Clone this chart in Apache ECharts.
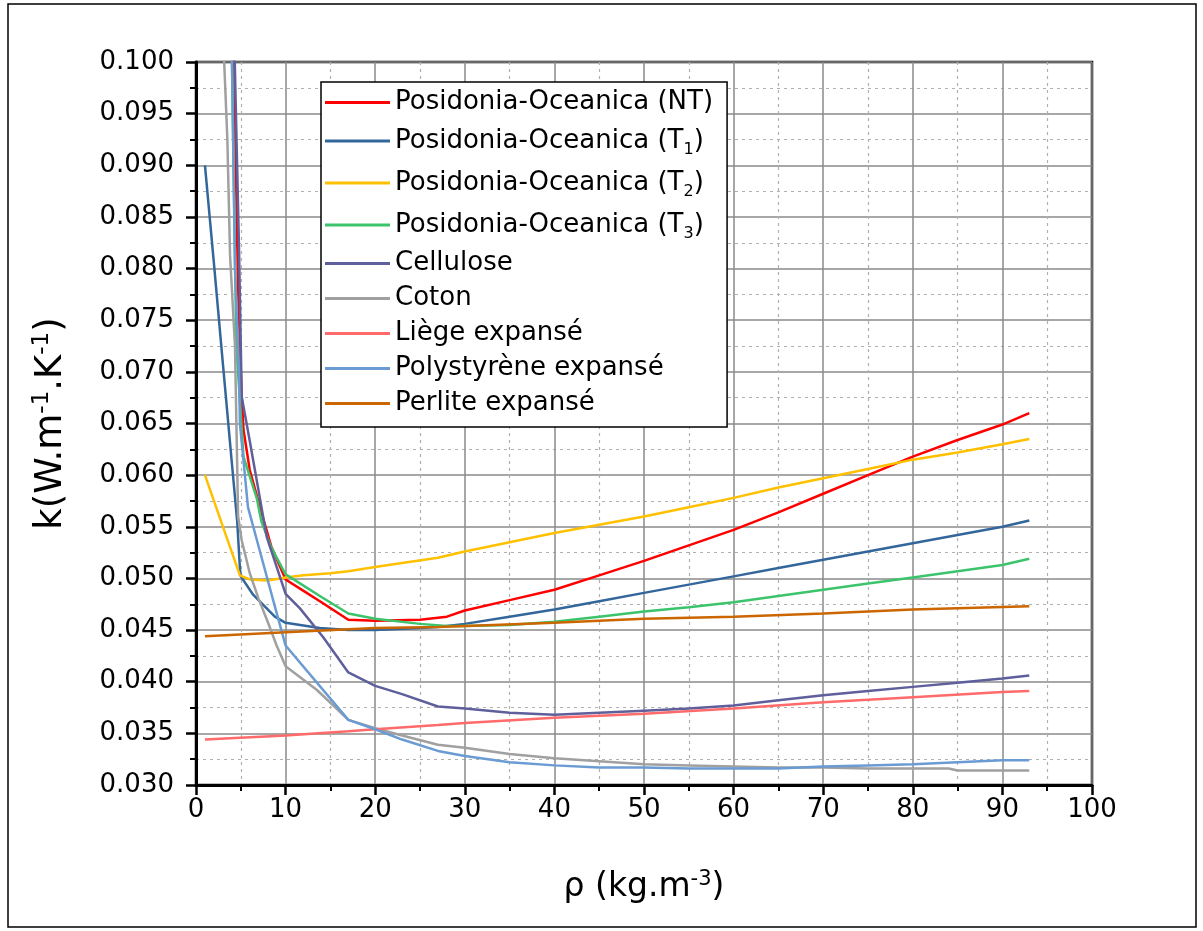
<!DOCTYPE html>
<html>
<head>
<meta charset="utf-8">
<script src="https://cdn.jsdelivr.net/npm/echarts@6/dist/echarts.min.js"></script>
<style>html,body{margin:0;padding:0;background:#fff}#c{width:1203px;height:931px}</style>
</head>
<body>
<div id="c"></div>
<script>
// ---- data (rho in kg/m3, k in W/m/K) ----
const seriesNames = ['Posidonia-Oceanica (NT)','Posidonia-Oceanica (T1)','Posidonia-Oceanica (T2)','Posidonia-Oceanica (T3)','Cellulose','Coton','Liège expansé','Polystyrène expansé','Perlite expansé'];
const seriesColors = ['#FF0000','#33669A','#FFC000','#3CC46C','#5F5F9C','#A0A0A0','#FF6A6A','#6A9BD2','#CC6600'];

const ntRho = [4.2,4.7,5.1,5.3,6,7.3,8.4,10,12,14,17,20,25,28,30,35,40,45,50,55,60,65,70,75,80,85,90,93];
const ntK   = [0.101,0.078,0.0676,0.0644,0.0605,0.0564,0.0531,0.0499,0.0488,0.0477,0.0460,0.0459,0.0460,0.0463,0.0469,0.0479,0.0489,0.0503,0.0517,0.0532,0.0547,0.0564,0.0582,0.0600,0.0618,0.0634,0.0649,0.0660];

const t1Rho = [1,2,3,4,4.6,4.9,5,6.4,8.8,10,13.8,17,20,25,27,30,35,40,45,50,55,60,65,70,75,80,85,90,93];
const t1K   = [0.0900,0.0805,0.0708,0.0612,0.0555,0.0510,0.0502,0.0484,0.0463,0.0457,0.0452,0.0450,0.0450,0.0452,0.0453,0.0456,0.0463,0.0470,0.0478,0.0486,0.0494,0.0502,0.0510,0.0518,0.0526,0.0534,0.0542,0.0550,0.0556];

const t2Rho = [1,4.9,6,8,10,12,15,17,20,23,27,30,35,40,45,50,55,60,65,70,75,80,85,90,93];
const t2K   = [0.0600,0.0503,0.0499,0.0498,0.0501,0.0503,0.0505,0.0507,0.0511,0.0515,0.0520,0.0526,0.0535,0.0544,0.0552,0.0560,0.0569,0.0578,0.0588,0.0597,0.0606,0.0615,0.0622,0.0630,0.0635];

const t3Rho = [4.0,4.5,5.3,6.8,7.3,8.4,10,12,14,17,20,25,28,30,35,40,45,50,55,60,65,70,75,80,85,90,93];
const t3K   = [0.101,0.0726,0.0618,0.0577,0.0555,0.0530,0.0504,0.0493,0.0482,0.0466,0.0461,0.0456,0.0454,0.0454,0.0455,0.0458,0.0463,0.0468,0.0472,0.0477,0.0483,0.0489,0.0495,0.0501,0.0507,0.0513,0.0519];

const celRho = [4.3,4.8,5.1,6,7.9,10,11.6,14.2,17,20,23,27,30,35,40,45,50,55,60,65,70,75,80,85,90,93];
const celK   = [0.101,0.082,0.0676,0.0633,0.0540,0.0485,0.0471,0.0443,0.0409,0.0396,0.0388,0.0376,0.0374,0.0370,0.0368,0.0370,0.0372,0.0374,0.0377,0.0382,0.0387,0.0391,0.0395,0.0399,0.0403,0.0406];

const cotRho = [3.1,3.5,3.8,4.35,4.7,5.1,6,7,8,9,10,13.5,17,20,23,27,30,35,40,45,50,55,60,65,70,75,80,84,85,93];
const cotK   = [0.101,0.0925,0.0813,0.0725,0.0560,0.0537,0.0505,0.0480,0.0458,0.0435,0.0415,0.0392,0.0363,0.0355,0.0348,0.0339,0.0336,0.0330,0.0326,0.0323,0.0320,0.0319,0.0318,0.0317,0.0317,0.0316,0.0316,0.0316,0.0314,0.0314];

const liegeRho = [1,10,17,20,27,30,40,50,60,70,80,90,93];
const liegeK   = [0.0344,0.0348,0.0352,0.0354,0.0358,0.0360,0.0365,0.0369,0.0374,0.0380,0.0385,0.0390,0.0391];

const polyRho = [4.0,4.35,4.8,4.9,5.8,6.8,8.8,10,17,20,23,27,30,35,40,45,50,55,60,65,70,75,80,85,90,93];
const polyK   = [0.101,0.080,0.0700,0.0650,0.0569,0.0537,0.0473,0.0435,0.0363,0.0354,0.0344,0.0333,0.0328,0.0322,0.0319,0.0317,0.0317,0.0316,0.0316,0.0316,0.0318,0.0319,0.0320,0.0322,0.0324,0.0324];

const perRho = [1,10,20,27,40,50,60,70,80,93];
const perK   = [0.0444,0.0448,0.0452,0.0453,0.0457,0.0461,0.0463,0.0466,0.0470,0.0473];

const allRho = [ntRho,t1Rho,t2Rho,t3Rho,celRho,cotRho,liegeRho,polyRho,perRho];
const allK   = [ntK,t1K,t2K,t3K,celK,cotK,liegeK,polyK,perK];
const legendLabels = {
  'Posidonia-Oceanica (T1)':'Posidonia-Oceanica (T{sub|1})',
  'Posidonia-Oceanica (T2)':'Posidonia-Oceanica (T{sub|2})',
  'Posidonia-Oceanica (T3)':'Posidonia-Oceanica (T{sub|3})'
};

const chart = echarts.init(document.getElementById('c'));
const FONT = 'DejaVu Sans';
const series = seriesNames.map((n,i)=>({
  name:n, type:'line', symbol:'none', clip:true, color:seriesColors[i],
  lineStyle:{width:2.5,color:seriesColors[i]},
  data: allRho[i].map((x,j)=>[x, allK[i][j]])
}));

chart.setOption({
  animation:false,
  backgroundColor:'#fff',
  graphic:[{type:'rect',shape:{x:8,y:4,width:1188,height:923},style:{fill:'none',stroke:'#000',lineWidth:1.5},z:-1}],
  grid:{left:196,right:111,top:62,bottom:146,show:true,borderColor:'#000',borderWidth:2.5,backgroundColor:'transparent'},
  legend:{
    orient:'vertical', left:321, top:82,
    data:seriesNames,
    icon:'rect', itemWidth:65, itemHeight:3, itemGap:8, itemTextGap:8,
    backgroundColor:'#fff', borderColor:'#000', borderWidth:1.5, padding:[7,14,10,4],
    textStyle:{fontFamily:FONT,fontSize:26,color:'#000',lineHeight:27,
      rich:{sub:{fontFamily:FONT,fontSize:16,verticalAlign:'bottom',lineHeight:34,padding:[14,0,0,0]}}},
    formatter:n=>legendLabels[n]||n
  },
  xAxis:{
    type:'value',min:0,max:100,interval:10,
    name:'ρ (kg.m{sup|-3})',nameLocation:'middle',nameGap:84,
    nameTextStyle:{fontFamily:FONT,fontSize:33,color:'#000',rich:{sup:{fontFamily:FONT,fontSize:21,verticalAlign:'top',padding:[0,0,16,0]}}},
    axisLine:{show:true,onZero:false,lineStyle:{color:'#000',width:3}},
    axisTick:{show:true,inside:false,length:10,lineStyle:{color:'#000',width:2.5}},
    minorTick:{show:true,splitNumber:2,length:6,lineStyle:{color:'#000',width:2}},
    axisLabel:{fontFamily:FONT,fontSize:26,color:'#000',margin:12},
    splitLine:{show:true,lineStyle:{color:'#8a8a8a',width:1.5}},
    minorSplitLine:{show:true,lineStyle:{color:'#b0b0b0',width:1.2,type:[3,4]}}
  },
  yAxis:{
    type:'value',min:0.03,max:0.1,interval:0.005,
    name:'k(W.m{sup|-1}.K{sup|-1})',nameLocation:'middle',nameGap:124,
    nameTextStyle:{fontFamily:FONT,fontSize:37,color:'#000',rich:{sup:{fontFamily:FONT,fontSize:23,verticalAlign:'top',padding:[0,0,18,0]}}},
    axisLine:{show:true,onZero:false,lineStyle:{color:'#000',width:3}},
    axisTick:{show:true,inside:false,length:10,lineStyle:{color:'#000',width:2.5}},
    minorTick:{show:true,splitNumber:2,length:6,lineStyle:{color:'#000',width:2}},
    axisLabel:{fontFamily:FONT,fontSize:26,color:'#000',margin:22,formatter:v=>v.toFixed(3)},
    splitLine:{show:true,lineStyle:{color:'#8a8a8a',width:1.5}},
    minorSplitLine:{show:true,lineStyle:{color:'#b0b0b0',width:1.2,type:[3,4]}}
  },
  series:series
});
</script>
</body>
</html>
